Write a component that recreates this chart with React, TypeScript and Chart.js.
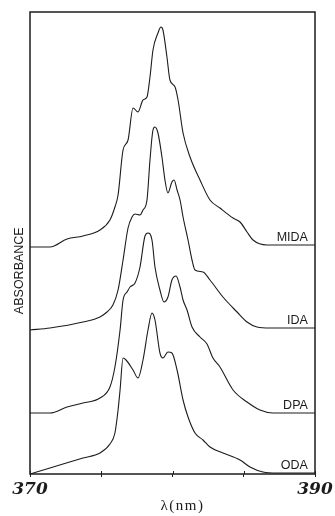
import React, { useEffect, useRef } from 'react';
import { Chart, registerables } from 'chart.js';

Chart.register(...registerables);

// ---- data (wavelength in nm, absorbance in arbitrary offset units) ----
const seriesNames = ['MIDA', 'IDA', 'DPA', 'ODA'];

const midaX = [370.0, 371.4, 372.6, 373.72, 374.91, 375.61, 375.96, 376.18, 376.53, 376.88, 377.23, 377.58, 377.93, 378.21, 378.42, 378.63, 378.98, 379.19, 379.33, 379.61, 379.82, 380.18, 380.39, 380.74, 381.23, 381.93, 382.63, 383.33, 384.25, 384.74, 385.23, 385.65, 386.63, 390.0];
const midaY = [22.7, 22.7, 23.5, 23.8, 24.4, 25.4, 26.7, 27.9, 32.4, 33.4, 36.6, 36.2, 37.4, 37.7, 39.7, 42.4, 44.1, 44.7, 44.4, 41.7, 39.4, 38.7, 37.4, 34.1, 31.7, 29.4, 27.4, 26.6, 25.6, 25.2, 24.2, 23.4, 22.9, 22.9];

const idaX = [370.0, 371.4, 373.72, 374.91, 375.4, 375.82, 376.18, 376.53, 376.88, 377.16, 377.37, 377.72, 377.93, 378.21, 378.42, 378.63, 378.77, 378.98, 379.26, 379.47, 379.68, 379.96, 380.11, 380.32, 380.53, 380.74, 381.09, 381.37, 381.58, 382.14, 382.63, 383.54, 384.53, 385.23, 385.93, 386.84, 390.0];
const idaY = [14.4, 14.6, 15.2, 15.7, 16.2, 16.9, 18.4, 21.4, 24.6, 25.7, 26.0, 25.9, 26.4, 27.4, 31.4, 34.4, 34.7, 34.1, 31.7, 29.4, 28.1, 29.2, 29.4, 28.4, 27.4, 25.7, 23.4, 21.4, 20.4, 20.2, 19.4, 17.7, 16.2, 15.2, 14.7, 14.6, 14.6];

const dpaX = [370.0, 371.4, 372.6, 373.72, 374.91, 375.61, 375.96, 376.32, 376.53, 376.81, 377.02, 377.37, 377.72, 378.07, 378.28, 378.56, 378.77, 379.12, 379.4, 379.68, 379.96, 380.25, 380.53, 380.74, 381.02, 381.37, 381.93, 382.42, 382.84, 383.33, 384.25, 385.23, 386.14, 387.05, 390.0];
const dpaY = [6.1, 6.1, 6.7, 7.1, 7.6, 8.7, 10.7, 14.4, 17.4, 18.2, 18.7, 19.1, 20.7, 23.8, 24.1, 23.4, 20.7, 18.4, 17.2, 17.7, 19.4, 19.8, 18.7, 17.4, 16.4, 14.7, 13.7, 13.0, 11.6, 10.7, 8.4, 7.2, 6.4, 6.1, 6.1];

const odaX = [370.0, 371.4, 373.72, 374.91, 375.61, 375.96, 376.18, 376.32, 376.53, 376.74, 377.23, 377.58, 377.93, 378.28, 378.56, 378.77, 379.12, 379.33, 379.68, 379.96, 380.32, 380.74, 381.09, 381.58, 382.14, 382.63, 383.54, 384.74, 385.44, 386.35, 387.33, 390.0];
const odaY = [0, 0.6, 1.6, 2.1, 3.0, 4.1, 6.4, 8.4, 11.6, 11.4, 10.4, 9.6, 11.4, 14.4, 16.1, 15.4, 12.1, 11.6, 12.2, 12.1, 10.4, 7.4, 5.7, 4.1, 3.4, 2.7, 2.1, 1.4, 0.7, 0.2, 0.1, 0.1];

const xMin = 370;
const xMax = 390;
const xTickStep = 5;
const xTickLabels = [370, 390];
const yMin = 0;
const yMax = 46.2;
const labelX = 389.5;
const xAxisTitle = 'λ(nm)';
const yAxisTitle = 'ABSORBANCE';

const seriesXs = [midaX, idaX, dpaX, odaX];
const seriesYs = [midaY, idaY, dpaY, odaY];

const INK = '#1c1c1c';

const decorPlugin = {
  id: 'decor',
  afterDraw(chart: any) {
    const { ctx, chartArea: a, scales } = chart;
    const xs = scales.x;
    const ys = scales.y;
    ctx.save();
    // frame
    ctx.strokeStyle = INK;
    ctx.lineWidth = 1.5;
    ctx.strokeRect(a.left, a.top, a.right - a.left, a.bottom - a.top);
    // inward tick halves
    ctx.lineWidth = 1;
    for (let v = xMin; v <= xMax; v += xTickStep) {
      const px = Math.round(xs.getPixelForValue(v)) + 0.5;
      ctx.beginPath();
      ctx.moveTo(px, a.bottom);
      ctx.lineTo(px, a.bottom - 3);
      ctx.stroke();
    }
    // series labels
    ctx.fillStyle = INK;
    ctx.font = '12.5px "Liberation Sans", Arial, sans-serif';
    ctx.textAlign = 'right';
    ctx.textBaseline = 'alphabetic';
    chart.data.datasets.forEach((ds: any) => {
      const last = ds.data[ds.data.length - 1];
      const y = ys.getPixelForValue(last.y) - 4;
      ctx.fillText(ds.label, xs.getPixelForValue(labelX), y);
    });
    // y axis title
    ctx.save();
    ctx.translate(20, a.top + (a.bottom - a.top) * 0.56);
    ctx.rotate(-Math.PI / 2);
    ctx.textAlign = 'center';
    ctx.textBaseline = 'middle';
    ctx.font = '12.5px "Liberation Sans", Arial, sans-serif';
    ctx.fillText(yAxisTitle, 0, 0);
    ctx.restore();
    // x axis title
    ctx.textAlign = 'center';
    ctx.textBaseline = 'middle';
    ctx.font = '15px "Liberation Serif", "DejaVu Serif", serif';
    try { (ctx as any).letterSpacing = '1.5px'; } catch (e) {}
    ctx.fillText(xAxisTitle, a.left + (a.right - a.left) * 0.535, 506);
    try { (ctx as any).letterSpacing = '0px'; } catch (e) {}
    ctx.restore();
  },
};

export default function App() {
  const ref = useRef<HTMLCanvasElement | null>(null);

  useEffect(() => {
    if (!ref.current) return;
    const datasets = seriesNames.map((name, i) => ({
      label: name,
      data: seriesXs[i].map((x, j) => ({ x, y: seriesYs[i][j] })),
      borderColor: INK,
      borderWidth: 1.1,
      pointRadius: 0,
      fill: false,
      cubicInterpolationMode: 'monotone' as const,
    }));
    const chart = new Chart(ref.current, {
      type: 'line',
      data: { datasets },
      options: {
        animation: false,
        responsive: true,
        maintainAspectRatio: false,
        layout: { padding: { left: 0, top: 12, right: 20, bottom: 0 } },
        plugins: { legend: { display: false }, tooltip: { enabled: false } },
        scales: {
          x: {
            type: 'linear',
            min: xMin,
            max: xMax,
            afterFit: (s: any) => { s.height = 42; },
            ticks: {
              stepSize: xTickStep,
              autoSkip: false,
              maxRotation: 0,
              padding: 2,
              color: INK,
              font: { family: '"DejaVu Serif", serif', size: 17, style: 'italic', weight: 'bold' },
              callback: (v: any) => (xTickLabels.includes(Number(v)) ? String(v) : ''),
            },
            grid: { display: true, drawOnChartArea: false, drawTicks: true, tickLength: 3, color: INK, lineWidth: 1 },
            border: { display: false },
          },
          y: {
            type: 'linear',
            min: yMin,
            max: yMax,
            afterFit: (s: any) => { s.width = 30; },
            ticks: { display: false },
            grid: { display: false },
            border: { display: false },
          },
        },
      },
      plugins: [decorPlugin],
    });
    return () => chart.destroy();
  }, []);

  return (
    <div style={{ position: 'fixed', left: 0, top: 0, width: 335, height: 516, background: '#fff' }}>
      <canvas ref={ref} />
    </div>
  );
}
